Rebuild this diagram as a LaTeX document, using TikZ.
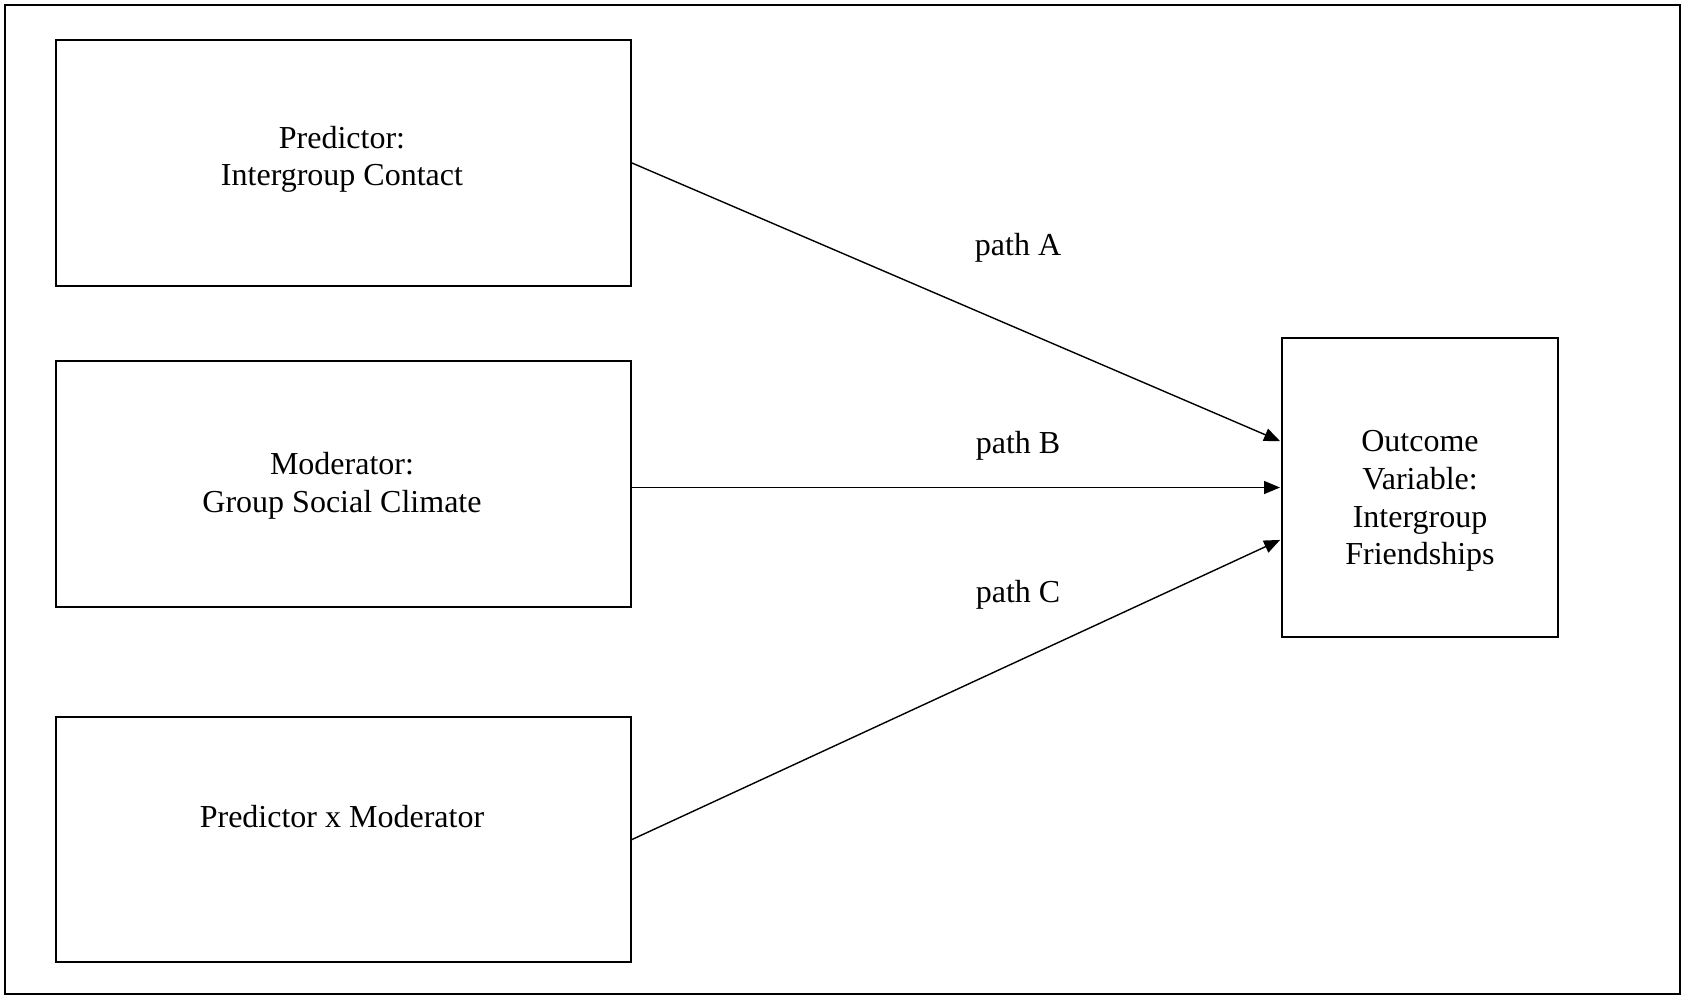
\documentclass[tikz,border=0pt]{standalone}
\usepackage{fontspec}
\setmainfont{Liberation Serif}
\usetikzlibrary{arrows.meta}
\begin{document}
\begin{tikzpicture}[x=0.5pt,y=-0.5pt,
  box/.style={draw=black,line width=1pt,minimum width=287.5pt,minimum height=#1,inner sep=0pt,fill=none},
  lbl/.style={font=\fontsize{16}{18.8}\selectfont,align=center,inner sep=0pt},
  arr/.style={-{Triangle[length=8pt,width=6.5pt]},line width=0.7pt,shorten >=0.5pt}]
\useasboundingbox (0,0) rectangle (1685,998);
\draw[line width=1pt] (5,5) rectangle (1680,994);
\node[box=123pt] (b1) at (343.5,163) {};
\node[box=123pt] (b2) at (343.5,484) {};
\node[box=122.5pt] (b3) at (343.5,839.5) {};
\node[draw=black,line width=1pt,minimum width=138pt,minimum height=149.5pt,inner sep=0pt] (out) at (1420,487.5) {};
\node[lbl] (t1) at (342,159.5) {Predictor:\\Intergroup Contact};
\node[lbl] (t2) at (342,486) {Moderator:\\Group Social Climate};
\node[lbl] (t3) at (342,817) {Predictor x Moderator};
\node[lbl] (t4) at (1420,501) {Outcome\\Variable:\\Intergroup\\Friendships};
\draw[arr] (b1.east) -- ([yshift=23pt]out.west);
\draw[arr] (b2.east |- out.west) -- (out.west);
\draw[arr] (b3.east) -- ([yshift=-26pt]out.west);
\node[lbl] (pA) at (1018,247.5) {path A};
\node[lbl] (pB) at (1018,446) {path B};
\node[lbl] (pC) at (1018,595) {path C};
\end{tikzpicture}
\end{document}
